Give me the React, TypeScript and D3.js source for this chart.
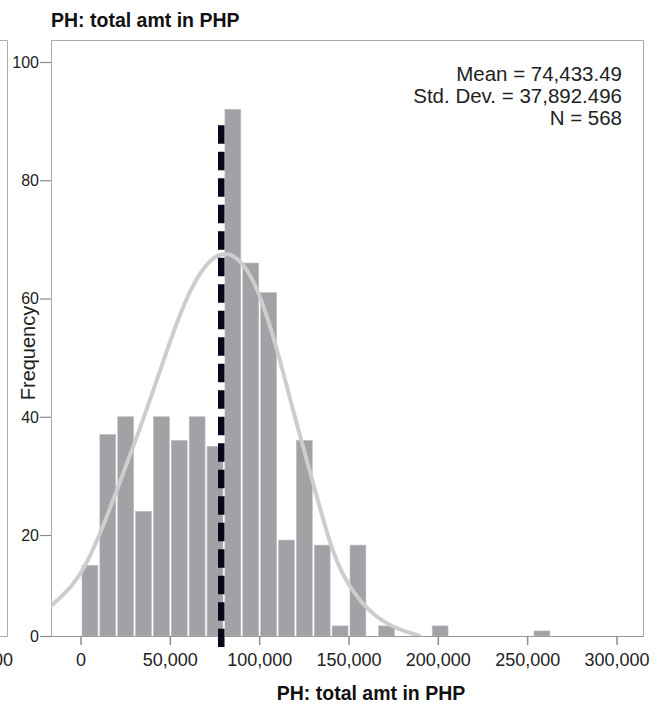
import React from "react";
import * as d3 from "d3";

// ---- data ----
const binStarts = [0, 10000, 20000, 30000, 40000, 50000, 60000, 70000, 80000, 90000, 100000, 110000, 120000, 130000, 140000, 150000, 166000, 196000, 253000];
const binCounts = [14, 37, 40, 24, 40, 36, 40, 35, 92, 66, 61, 19, 36, 18, 2, 18, 2, 2, 1];
const binWidth = 10000;

const xTickValues = [0, 50000, 100000, 150000, 200000, 250000, 300000];
const yTickValues = [0, 20, 40, 60, 80, 100];

// normal-curve overlay: [amount, frequency]
const curveX = [-20000, -10000, 0, 10000, 20000, 30000, 40000, 50000, 60000, 70000, 78000, 85000, 92000, 100000, 110000, 120000, 130000, 141000, 152000, 165000, 178000, 190000];
const curveY = [5.0, 8.0, 12.0, 19.5, 27.5, 35.5, 44.0, 53.0, 61.0, 66.0, 67.7, 67.5, 65.5, 61.0, 51.3, 39.5, 28.8, 15.7, 8.5, 3.6, 1.2, 0];

const meanLineX = 78500;
const meanLineTop = 89.3;

const statLines = ["Mean = 74,433.49", "Std. Dev. = 37,892.496", "N = 568"];
const titleText = "PH: total amt in PHP";
const yLabel = "Frequency";

const W = 662;
const H = 706;
const FRAME = { left: 51, top: 40, right: 643, bottom: 636 };

export default function App() {
  const x = d3.scaleLinear().domain([0, 300000]).range([81, 617]);
  const y = d3.scaleLinear().domain([0, 20, 100]).range([636, 535, 62]);
  const fmt = d3.format(",");

  const curvePts: [number, number][] = curveX.map((v, i) => [v, curveY[i]]);
  const line = d3
    .line<[number, number]>()
    .x((d) => x(d[0]))
    .y((d) => y(d[1]))
    .curve(d3.curveBasis);

  const sans = "'Liberation Sans', Arial, sans-serif";
  const frameColor = "#ababab";

  return (
    <svg
      width={W}
      height={H}
      style={{ position: "absolute", left: 0, top: 0, display: "block", background: "#fff" }}
    >
      <defs>
        <clipPath id="plotClip">
          <rect x={FRAME.left} y={FRAME.top} width={FRAME.right - FRAME.left} height={FRAME.bottom - FRAME.top} />
        </clipPath>
      </defs>

      {/* fragment of the neighbouring panel on the left */}
      <path d={`M0,40.5H7.5V636.5H0`} fill="none" stroke={frameColor} strokeWidth={1} />
      <text x={13} y={666} textAnchor="end" fontFamily={sans} fontSize={18} fill="#222">
        300,000
      </text>

      {/* title */}
      <text x={51} y={27} fontFamily={sans} fontSize={19.5} fontWeight="bold" fill="#111">
        {titleText}
      </text>

      {/* frame */}
      <rect
        x={FRAME.left + 0.5}
        y={FRAME.top + 0.5}
        width={FRAME.right - FRAME.left}
        height={FRAME.bottom - FRAME.top}
        fill="none"
        stroke={frameColor}
        strokeWidth={1}
      />

      {/* bars */}
      <g>
        {binStarts.map((b, i) => {
          const x0 = x(b);
          const x1 = x(b + binWidth);
          return (
            <rect
              key={i}
              x={x0 + 1}
              y={y(binCounts[i])}
              width={x1 - x0 - 2}
              height={y(0) - y(binCounts[i])}
              fill="#a2a1a6"
              stroke="#bdbdc0"
              strokeWidth={0.6}
            />
          );
        })}
      </g>

      {/* x axis line */}
      <line x1={FRAME.left} x2={FRAME.right} y1={636.5} y2={636.5} stroke="#9a9a9a" strokeWidth={1.2} />

      {/* normal curve */}
      <path d={line(curvePts) || ""} fill="none" stroke="#cdcdcd" strokeWidth={4} clipPath="url(#plotClip)" />

      {/* dashed reference line */}
      <line
        x1={x(meanLineX)}
        x2={x(meanLineX)}
        y1={y(meanLineTop)}
        y2={647}
        stroke="#07071b"
        strokeWidth={6.5}
        strokeDasharray="18.5 8"
      />

      {/* y axis ticks */}
      {yTickValues.map((t) => (
        <g key={t}>
          <line x1={40} x2={51} y1={y(t) + 0.5} y2={y(t) + 0.5} stroke="#8c8c8c" strokeWidth={1.2} />
          <text x={39} y={y(t)} dy="0.36em" textAnchor="end" fontFamily={sans} fontSize={16} fill="#222">
            {t}
          </text>
        </g>
      ))}

      {/* x axis ticks */}
      {xTickValues.map((t) => (
        <g key={t}>
          <line x1={x(t)} x2={x(t)} y1={636} y2={645} stroke="#8c8c8c" strokeWidth={1.5} />
          <text x={x(t)} y={666} textAnchor="middle" fontFamily={sans} fontSize={18} fill="#222">
            {fmt(t)}
          </text>
        </g>
      ))}

      {/* stats box text */}
      {statLines.map((s, i) => (
        <text key={s} x={622} y={81 + i * 22} textAnchor="end" fontFamily={sans} fontSize={20.5} fill="#222">
          {s}
        </text>
      ))}

      {/* axis titles */}
      <text
        transform={`translate(35,353) rotate(-90)`}
        textAnchor="middle"
        fontFamily={sans}
        fontSize={20}
        fill="#222"
      >
        {yLabel}
      </text>
      <text x={371} y={700} textAnchor="middle" fontFamily={sans} fontSize={19.5} fontWeight="bold" fill="#111">
        {titleText}
      </text>
    </svg>
  );
}
